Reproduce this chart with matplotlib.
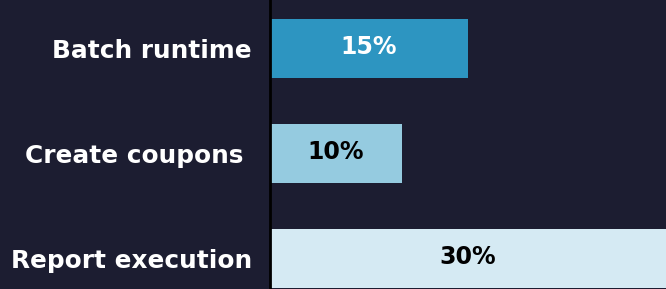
import matplotlib.pyplot as plt

# data
categories = ["Batch runtime", "Create coupons ", "Report execution"]
values = [15, 10, 30]
bar_colors = ["#2d95c1", "#95cbe0", "#d5eaf3"]
text_colors = ["white", "black", "black"]

bg = "#1c1d31"

fig = plt.figure(figsize=(6.66, 2.89), dpi=100, facecolor=bg)
ax = fig.add_axes([270 / 666, 0, 1 - 270 / 666, 1])
ax.set_facecolor(bg)

ypos = list(range(len(categories)))
ax.barh(ypos, values, height=0.56, color=bar_colors)

for y, v, tc in zip(ypos, values, text_colors):
    ax.text(v / 2, y - 0.01, f"{v}%", ha="center", va="center", color=tc,
            fontsize=17, fontweight="bold")

ax.set_xlim(0, 30)
ax.set_ylim(2.29, -0.46)
ax.set_yticks(ypos)
ax.set_yticklabels(categories, fontsize=17.8, fontweight="bold", color="white")
ax.tick_params(axis="y", length=0, pad=13)
ax.set_xticks([])

for s in ["top", "right", "bottom"]:
    ax.spines[s].set_visible(False)
ax.spines["left"].set_color("black")
ax.spines["left"].set_linewidth(2)
ax.spines["left"].set_zorder(5)

fig.savefig("out.png", dpi=100, facecolor=bg)
